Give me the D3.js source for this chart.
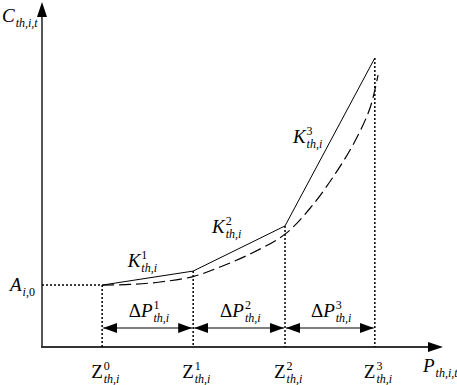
<!DOCTYPE html>
<html><head><meta charset="utf-8">
<script src="https://cdn.jsdelivr.net/npm/d3@7/dist/d3.min.js"></script>
<style>html,body{margin:0;padding:0;background:#fff;}svg{display:block;}</style>
</head><body>
<svg id="c" width="457" height="385" font-family="Liberation Serif"></svg>
<script>
// ---- data ----
const zX = [15, 37.7, 60.6, 83.0];          // breakpoints Z^0..Z^3 (P axis)
const zC = [18.1, 22.2, 35.4, 84.5];        // cost at breakpoints (C axis)
const zSup = ["0", "1", "2", "3"];
const kSup = ["1", "2", "3"];
const dpSup = ["1", "2", "3"];
const curveX = [15, 21.9, 29.4, 37.7, 44.4, 51.9, 60.6, 66.8, 73.1, 78.1, 81.8, 83.8];
const curveY = [18.1, 18.3, 19.0, 20.6, 23.4, 27.2, 33.0, 40.5, 50.6, 60.3, 69.9, 79.5];

const FONT = "Liberation Serif";
const svg = d3.select("#c");
const x = d3.scaleLinear().domain([0, 100]).range([42, 443]);
const y = d3.scaleLinear().domain([0, 100]).range([347, 5]);

// defs: arrow marker
const defs = svg.append("defs");
defs.append("marker").attr("id","ah").attr("viewBox","0 0 14 10").attr("refX",14).attr("refY",5)
  .attr("markerWidth",14).attr("markerHeight",10).attr("markerUnits","userSpaceOnUse").attr("orient","auto-start-reverse")
  .append("path").attr("d","M0,0 L14,5 L0,10 Z").attr("fill","#000");

// axes
svg.append("line").attr("x1",x(0)).attr("y1",y(0)).attr("x2",x(0)).attr("y2",16)
  .attr("stroke","#555").attr("stroke-width",2);
svg.append("path").attr("d",`M${x(0)},2 L${x(0)-5},17 L${x(0)+5},17 Z`).attr("fill","#000");
svg.append("line").attr("x1",x(0)-1).attr("y1",y(0)).attr("x2",428).attr("y2",y(0))
  .attr("stroke","#333").attr("stroke-width",1.8);
svg.append("path").attr("d",`M443,${y(0)} L428,${y(0)-5} L428,${y(0)+5} Z`).attr("fill","#000");

// dotted guides
svg.append("line").attr("x1",x(0)).attr("x2",x(zX[0])).attr("y1",y(zC[0])).attr("y2",y(zC[0]))
  .attr("stroke","#000").attr("stroke-width",1.5).attr("stroke-dasharray","2,2");
svg.selectAll(".vg").data(zX).enter().append("line")
  .attr("x1",d=>x(d)).attr("x2",d=>x(d)).attr("y1",(d,i)=>y(zC[i])).attr("y2",y(0))
  .attr("stroke","#000").attr("stroke-width",1.5).attr("stroke-dasharray","2,2");

// piecewise linear solid
const pts = zX.map((d,i)=>[d,zC[i]]);
svg.append("path").datum(pts).attr("d",d3.line().x(d=>x(d[0])).y(d=>y(d[1])))
  .attr("fill","none").attr("stroke","#000").attr("stroke-width",1);

// dashed curve
const cpts = curveX.map((d,i)=>[d,curveY[i]]);
svg.append("path").datum(cpts).attr("d",d3.line().x(d=>x(d[0])).y(d=>y(d[1])).curve(d3.curveCatmullRom))
  .attr("fill","none").attr("stroke","#000").attr("stroke-width",1.2).attr("stroke-dasharray","12,5");

// dimension arrows
const dimY = 328;
for (let i=0;i<3;i++){
  svg.append("line").attr("x1",x(zX[i])+1).attr("x2",x(zX[i+1])-1).attr("y1",dimY).attr("y2",dimY)
    .attr("stroke","#000").attr("stroke-width",1.2)
    .attr("marker-start","url(#ah)").attr("marker-end","url(#ah)");
}

// label helper: base text + stacked sup/sub
function label(xp, yb, base, sup, sub, opts={}) {
  const g = svg.append("g");
  const t = g.append("text").attr("x",xp).attr("y",yb).attr("font-family",FONT)
    .attr("font-size",opts.size||19).attr("fill","#000");
  if (opts.delta){ t.append("tspan").text("Δ"); }
  t.append("tspan").attr("font-style",opts.upright?"normal":"italic").text(base);
  const w = t.node().getComputedTextLength();
  const xs = xp + w + (opts.gap||1);
  if (sup!==null) g.append("text").attr("x",xs).attr("y",yb-8).attr("font-family",FONT)
    .attr("font-size",12).text(sup);
  if (sub!==null) {
    const s = g.append("text").attr("x",xs).attr("y",yb+5).attr("font-family",FONT)
      .attr("font-size",12);
    sub.forEach(p=>s.append("tspan").attr("font-style",p.u?"normal":"italic").text(p.t));
  }
}
const thi = [{t:"th,i"}];
label(2, 22, "C", null, [{t:"th,i,t"}]);
label(423, 372, "P", null, [{t:"th,i,t"}], {gap:0});
label(10, 291, "A", null, [{t:"i,"},{t:"0",u:true}], {gap:0});

zX.forEach((d,i)=>label(x(d)-11, 378, "Z", zSup[i], thi, {upright:true}));

const kOff = [[-20,-11],[-27,-16],[-37,1]];
for (let i=0;i<3;i++){
  const mx = (x(zX[i])+x(zX[i+1]))/2, my = (y(zC[i])+y(zC[i+1]))/2;
  label(mx+kOff[i][0], my+kOff[i][1], "K", kSup[i], thi, {gap:1});
}
for (let i=0;i<3;i++){
  const mx = (x(zX[i])+x(zX[i+1]))/2;
  label(mx-19, 317, "P", dpSup[i], thi, {delta:true});
}
</script>
</body></html>
